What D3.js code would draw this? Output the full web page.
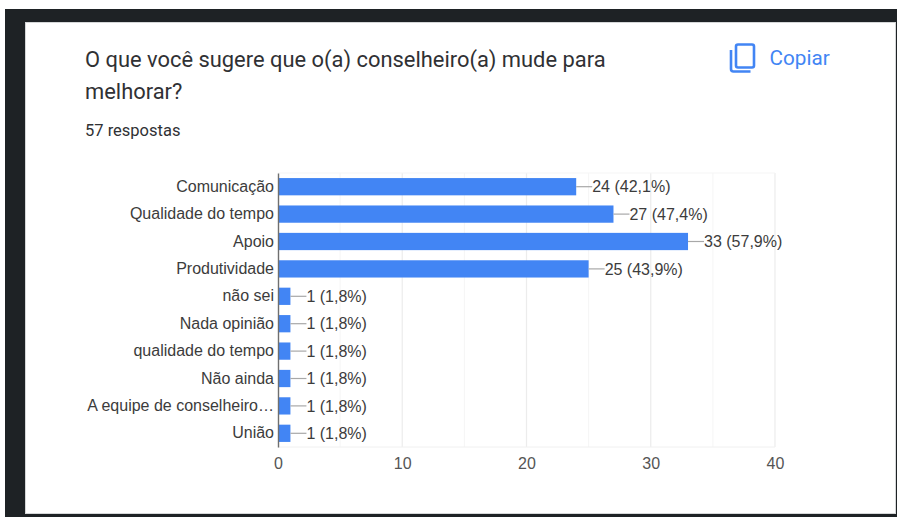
<!DOCTYPE html>
<html>
<head>
<meta charset="utf-8">
<script src="https://cdn.jsdelivr.net/npm/d3@7"></script>
<style>
  html, body { margin: 0; padding: 0; background: #fff; }
  svg { display: block; }
</style>
</head>
<body>
<div id="chart"></div>
<script>
const categories = [
  "Comunicação", "Qualidade do tempo", "Apoio", "Produtividade", "não sei",
  "Nada opinião", "qualidade do tempo", "Não ainda", "A equipe de conselheiro…", "União"
];
const counts = [24, 27, 33, 25, 1, 1, 1, 1, 1, 1];
const percents = ["42,1%", "47,4%", "57,9%", "43,9%", "1,8%", "1,8%", "1,8%", "1,8%", "1,8%", "1,8%"];
const majorTicks = [0, 10, 20, 30, 40];
const minorTicks = [5, 15, 25, 35];
const titleLines = ["O que você sugere que o(a) conselheiro(a) mude para", "melhorar?"];

const fullWidth = 897;
const fullHeight = 517;
const margin = { top: 173, right: 122, bottom: 70, left: 278 };
const labelFont = "'Liberation Sans', Arial, sans-serif";
const titleFont = "Roboto, sans-serif";

const svg = d3.select("#chart")
  .append("svg")
  .attr("width", fullWidth)
  .attr("height", fullHeight);

// === Screenshot frame ===
svg.append("rect").attr("x", 5).attr("y", 9).attr("width", 892).attr("height", 508).attr("fill", "#1e2225");
svg.append("rect").attr("x", 25.5).attr("y", 22.5).attr("width", 870).attr("height", 491)
  .attr("fill", "#fff").attr("stroke", "#d5d7d8");

// === Header ===
svg.append("g")
  .selectAll("text")
  .data(titleLines)
  .enter()
  .append("text")
  .attr("x", 85)
  .attr("y", (d, i) => 67 + i * 32)
  .style("font-family", titleFont)
  .style("font-size", "21.9px")
  .style("fill", "#303134")
  .text((d) => d);

svg.append("text")
  .attr("x", 85)
  .attr("y", 135.5)
  .style("font-family", titleFont)
  .style("font-size", "16.5px")
  .style("fill", "#303134")
  .text("57 respostas");

// === Copy button ===
const copyIcon = svg.append("g")
  .attr("fill", "none")
  .attr("stroke", "#4285f4")
  .attr("stroke-width", 2.6);
copyIcon.append("rect").attr("x", 736).attr("y", 44.5).attr("width", 18).attr("height", 23).attr("rx", 2);
copyIcon.append("path").attr("d", "M731 50v19a2.5 2.5 0 0 0 2.5 2.5h17");

svg.append("text")
  .attr("x", 769.5)
  .attr("y", 65)
  .style("font-family", titleFont)
  .style("font-size", "20.7px")
  .style("fill", "#4285f4")
  .text("Copiar");

// === Scales ===
const x = d3.scaleLinear()
  .domain([0, 40])
  .range([margin.left, fullWidth - margin.right]);

const y = d3.scaleBand()
  .domain(categories)
  .range([margin.top, fullHeight - margin.bottom])
  .paddingInner(0.37)
  .paddingOuter(0.185);

const yBottom = fullHeight - margin.bottom;

// === Grid ===
svg.append("g")
  .selectAll("line")
  .data(minorTicks)
  .enter()
  .append("line")
  .attr("x1", (d) => x(d))
  .attr("x2", (d) => x(d))
  .attr("y1", margin.top)
  .attr("y2", yBottom)
  .attr("stroke", "#f5f5f5");

svg.append("g")
  .selectAll("line")
  .data(majorTicks.slice(1))
  .enter()
  .append("line")
  .attr("x1", (d) => x(d))
  .attr("x2", (d) => x(d))
  .attr("y1", margin.top)
  .attr("y2", yBottom)
  .attr("stroke", "#ececec")
  .attr("stroke-width", 1.2);

svg.append("line")
  .attr("x1", x(0))
  .attr("x2", x(40))
  .attr("y1", yBottom)
  .attr("y2", yBottom)
  .attr("stroke", "#f0f0f0");

svg.append("line")
  .attr("x1", x(0))
  .attr("x2", x(40))
  .attr("y1", margin.top)
  .attr("y2", margin.top)
  .attr("stroke", "#f5f5f5");

// === Bars ===
svg.append("g")
  .selectAll("rect")
  .data(counts)
  .enter()
  .append("rect")
  .attr("x", x(0))
  .attr("y", (d, i) => y(categories[i]))
  .attr("width", (d) => x(d) - x(0))
  .attr("height", y.bandwidth())
  .attr("fill", "#4285f4");

// === Leader lines and value labels ===
const leaderLength = 16;

svg.append("g")
  .selectAll("line")
  .data(counts)
  .enter()
  .append("line")
  .attr("x1", (d) => x(d))
  .attr("x2", (d) => x(d) + leaderLength)
  .attr("y1", (d, i) => y(categories[i]) + y.bandwidth() / 2)
  .attr("y2", (d, i) => y(categories[i]) + y.bandwidth() / 2)
  .attr("stroke", "#a8a8a8")
  .attr("stroke-width", 1.2);

svg.append("g")
  .selectAll("text")
  .data(counts)
  .enter()
  .append("text")
  .attr("x", (d) => x(d) + leaderLength)
  .attr("y", (d, i) => y(categories[i]) + y.bandwidth() / 2)
  .attr("dy", "0.36em")
  .style("font-family", labelFont)
  .style("font-size", "16px")
  .style("fill", "#3c3c3c")
  .text((d, i) => `${d} (${percents[i]})`);

// === Category axis ===
const yAxis = svg.append("g")
  .attr("transform", `translate(${x(0)},0)`)
  .call(d3.axisLeft(y).tickSize(0).tickPadding(4));
yAxis.select(".domain").attr("stroke", "#6f6f6f").attr("stroke-width", 1.4);
yAxis.selectAll("text")
  .style("font-family", labelFont)
  .style("font-size", "16px")
  .style("fill", "#3c3c3c");

// === Value axis ===
const xAxis = svg.append("g")
  .attr("transform", `translate(0,${yBottom})`)
  .call(d3.axisBottom(x).tickValues(majorTicks).tickSize(0).tickPadding(11));
xAxis.select(".domain").remove();
xAxis.selectAll("text")
  .style("font-family", labelFont)
  .style("font-size", "16px")
  .style("fill", "#555");
</script>
</body>
</html>
